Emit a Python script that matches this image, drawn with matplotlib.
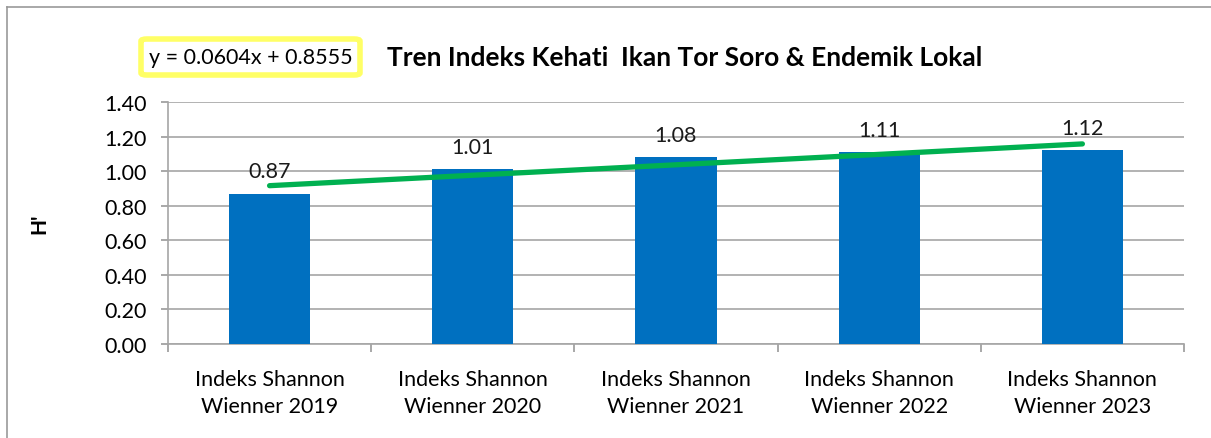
import matplotlib.pyplot as plt
from matplotlib.lines import Line2D
from matplotlib.patches import FancyBboxPatch
import numpy as np

plt.rcParams['font.family'] = ['Lato', 'DejaVu Sans']

categories = ["Indeks Shannon\nWienner 2019", "Indeks Shannon\nWienner 2020",
              "Indeks Shannon\nWienner 2021", "Indeks Shannon\nWienner 2022",
              "Indeks Shannon\nWienner 2023"]
h_values = [0.87, 1.01, 1.08, 1.11, 1.12]
value_labels = ["0.87", "1.01", "1.08", "1.11", "1.12"]
trend_slope = 0.0604
trend_intercept = 0.8555
y_ticks = [0.0, 0.2, 0.4, 0.6, 0.8, 1.0, 1.2, 1.4]

fig = plt.figure(figsize=(12.11, 4.39), dpi=100)
ax = fig.add_axes([0.1387, 0.2141, 0.839, 0.5513])

x = np.arange(len(categories))
ax.bar(x, h_values, width=0.4, color="#0070C0", zorder=3)

# linear trend line from first to last category
xt = np.array([x[0], x[-1]])
yt = trend_slope * (xt + 1) + trend_intercept
ax.plot(xt, yt, color="#00B050", lw=3.8, solid_capstyle="round", zorder=4)

for xi, v, lab in zip(x, h_values, value_labels):
    ax.annotate(lab, (xi, v), xytext=(0, 9), textcoords="offset points",
                ha="center", va="bottom", fontsize=15.5, color="#1a1a1a")

ax.set_xlim(-0.5, len(categories) - 0.5)
ax.set_ylim(0, 1.4)
ax.set_yticks(y_ticks)
ax.set_yticklabels([f"{t:.2f}" for t in y_ticks], fontsize=15.5)
ax.set_xticks(x)
ax.set_xticklabels(categories, fontsize=15.5, linespacing=1.45)
ax.set_xticks(np.arange(-0.5, len(categories)), minor=True)
ax.tick_params(axis="x", which="major", length=0, pad=18)
ax.tick_params(axis="x", which="minor", length=6, color="#999999", width=1.2)
ax.tick_params(axis="y", length=5, color="#999999", width=1.2, pad=10)

ax.grid(axis="y", color="#A6A6A6", lw=1.2, zorder=0)
for s in ["top", "right"]:
    ax.spines[s].set_visible(False)
for s in ["left", "bottom"]:
    ax.spines[s].set_color("#A6A6A6")
    ax.spines[s].set_linewidth(1.2)

ax.set_ylabel("H'", fontsize=15, fontweight="bold", labelpad=40)

fig.text(0.5656, 0.868, "Tren Indeks Kehati  Ikan Tor Soro & Endemik Lokal",
         ha="center", va="center", fontsize=19, fontweight="bold")

# equation box
box = FancyBboxPatch((141 / 1211, 1 - 76 / 439), 219 / 1211, 36 / 439,
                     boxstyle="round,pad=0,rounding_size=0.005",
                     transform=fig.transFigure, facecolor="white",
                     edgecolor="#FFFF66", lw=4)
fig.patches.append(box)
fig.text(251 / 1211, 1 - 58 / 439, "y = 0.0604x + 0.8555", ha="center",
         va="center", fontsize=15.5)

# chart area border (left and top edges)
fig.add_artist(Line2D([6.5 / 1211, 6.5 / 1211], [0, 1 - 8 / 439],
                      color="#999999", lw=1.2))
fig.add_artist(Line2D([6.5 / 1211, 1], [1 - 8 / 439, 1 - 8 / 439],
                      color="#999999", lw=1.2))

fig.savefig("out.png", dpi=100)
